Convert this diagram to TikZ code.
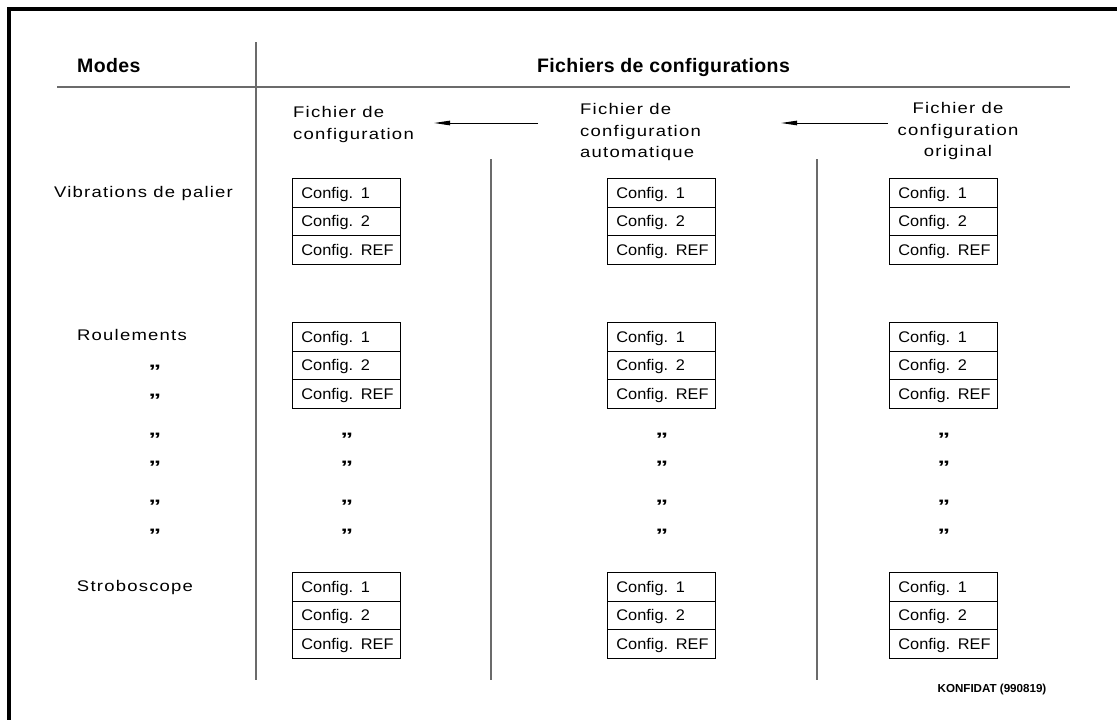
\documentclass[tikz,border=0pt]{standalone}
\usepackage{fontspec}
\setmainfont{Liberation Sans}
\newfontfamily\cadfont{Liberation Sans}[FakeStretch=1.2,LetterSpace=8]
\newfontfamily\cellfont{Liberation Sans}[FakeStretch=1.06,WordSpace=1.5]
\newfontfamily\dittofont{Liberation Sans}[FakeStretch=1.4]
\newfontfamily\titlefont{Liberation Sans}[LetterSpace=2]
\usetikzlibrary{arrows.meta}
\definecolor{rulegray}{gray}{0.42}

\begin{document}
\begin{tikzpicture}[x=1pt,y=-1pt,
  frame/.style={line width=3.3pt},
  rule/.style={draw=rulegray,line width=1.6pt},
  flow/.style={line width=1pt,-{Triangle[length=16pt,width=4.5pt]}},
  cell/.style={draw,line width=0.9pt,anchor=north west,
    minimum width=108pt,minimum height=28.5pt,inner xsep=9pt,inner ysep=0pt,
    text width=90pt,align=left,text height=11pt,text depth=0pt,
    font=\cellfont\fontsize{15.4}{18}\selectfont},
  label/.style={inner sep=0pt,font=\cadfont\fontsize{15.4}{21.2}\selectfont},
  title/.style={inner sep=0pt,anchor=base,font=\titlefont\bfseries\fontsize{19.5}{22}\selectfont},
  ditto/.style={inner sep=0pt,anchor=base,font=\dittofont\bfseries\fontsize{18}{20}\selectfont},
]
\useasboundingbox (0,0) rectangle (1117,720);

% outer frame (top and left edges)
\draw[frame] (9,720) -- (9,9) -- (1117,9);

% table rules
\draw[rule] (57,87) -- (1070,87);
\draw[rule] (256,42) -- (256,680);
\draw[rule] (491,159) -- (491,680);
\draw[rule] (817,159) -- (817,680);

% header titles
\node[title,anchor=base west] (tmodes) at (77,72) {Modes};
\node[title] (tfiles) at (663.5,72) {Fichiers de configurations};

% column headings
\node[label,anchor=north west,align=left] (hleft) at (293,106.6) {Fichier de\\configuration};
\node[label,anchor=north west,align=left] (hmid) at (580,103.6) {Fichier de\\configuration\\automatique};
\node[label,anchor=north,align=center] (hright) at (958,102.6) {Fichier de\\configuration\\original};

% copy direction arrows
\draw[flow] ([xshift=-42pt]hmid.west |- 0,123) -- ([xshift=20pt]hleft.east |- 0,123);
\draw[flow] ([xshift=-10pt]hright.west |- 0,123) -- ([xshift=80pt]hmid.east |- 0,123);

% mode labels
\node[label,anchor=base] (mvib) at (143.5,197.7) {Vibrations de palier};
\node[label,anchor=base] (mroul) at (132,340) {Roulements};
\node[label,anchor=base] (mstrob) at (135,591) {Stroboscope};
\foreach \y [count=\i] in {368,397,436,464,503,532}
  \node[ditto] (qm\i) at (155,\y+9.5) {”};

% configuration boxes
\foreach \c/\x in {1/292,2/607,3/889}
  \foreach \g/\t in {1/178,2/322,3/572}
    \foreach \r/\txt in {1/{Config. 1},2/{Config. 2},3/{Config. REF}}
      \node[cell] (b\c\g\r) at ({\x},{\t+(\r-1)*28.5}) {\mbox{\txt}};

% ditto marks inside the file columns
\foreach \c/\x in {1/347,2/662,3/944}
  \foreach \y [count=\i] in {436,464,503,532}
    \node[ditto] (q\c\i) at (\x,\y+9.5) {”};

% drawing reference
\node[inner sep=0pt,anchor=base,font=\bfseries\fontsize{11.6}{14}\selectfont] (ref) at (992,692.7) {KONFIDAT (990819)};
\end{tikzpicture}
\end{document}
